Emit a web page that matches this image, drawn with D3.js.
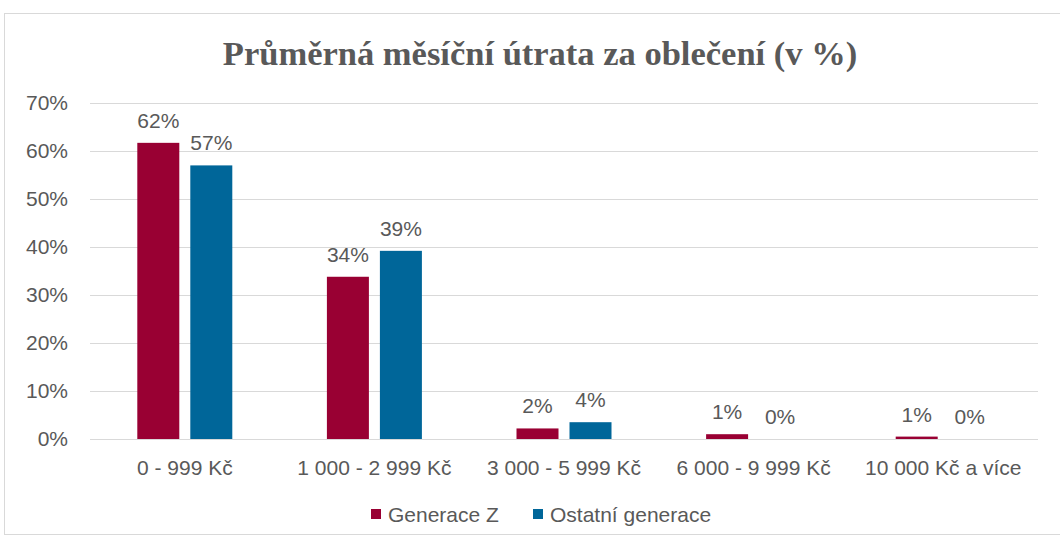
<!DOCTYPE html>
<html>
<head>
<meta charset="utf-8">
<script src="https://cdn.jsdelivr.net/npm/d3@7"></script>
<style>
  body { margin: 0; background: #fff; }
  text { font-family: "Liberation Sans", Arial, sans-serif; fill: #595959; }
</style>
</head>
<body>
<svg width="1060" height="540"></svg>
<script>
const categories = ["0 - 999 Kč", "1 000 - 2 999 Kč", "3 000 - 5 999 Kč", "6 000 - 9 999 Kč", "10 000 Kč a více"];
const seriesNames = ["Generace Z", "Ostatní generace"];
const genZ = [61.7, 33.8, 2.2, 1.0, 0.5];
const others = [57.0, 39.2, 3.5, 0, 0];
const genZLabels = ["62%", "34%", "2%", "1%", "1%"];
const othersLabels = ["57%", "39%", "4%", "0%", "0%"];
const yTicks = [0, 10, 20, 30, 40, 50, 60, 70];
const colors = ["#990033", "#006699"];

const svg = d3.select("svg");

// chart frame
svg.append("rect")
  .attr("x", 4.5).attr("y", 13.5)
  .attr("width", 1070).attr("height", 521)
  .attr("fill", "none").attr("stroke", "#d9d9d9");

svg.append("text")
  .attr("x", 540).attr("y", 65)
  .attr("text-anchor", "middle")
  .style("font-family", "'Liberation Serif', 'Times New Roman', serif")
  .style("font-weight", "bold")
  .style("font-size", "34.5px")
  .text("Průměrná měsíční útrata za oblečení (v %)");

const margin = { left: 90, right: 1038, top: 103, bottom: 439 };

const x = d3.scaleBand().domain(categories).range([margin.left, margin.right]);
const y = d3.scaleLinear().domain([0, 70]).range([margin.bottom, margin.top]);

// gridlines
svg.append("g")
  .selectAll("line")
  .data(yTicks)
  .enter()
  .append("line")
  .attr("x1", margin.left).attr("x2", margin.right)
  .attr("y1", (d) => y(d) + 0.5).attr("y2", (d) => y(d) + 0.5)
  .attr("stroke", "#d9d9d9").attr("stroke-width", 1);

const yAxis = svg.append("g")
  .attr("transform", `translate(${margin.left - 19},0)`)
  .call(d3.axisLeft(y).tickValues(yTicks).tickFormat((d) => d + "%").tickSize(0));
yAxis.select(".domain").remove();
yAxis.selectAll("text").style("font-size", "21px").attr("fill", "#595959");

const xAxis = svg.append("g")
  .attr("transform", `translate(0,${margin.bottom + 36})`)
  .call(d3.axisBottom(x).tickSize(0));
xAxis.select(".domain").remove();
xAxis.selectAll("text").style("font-size", "21px").attr("fill", "#595959").attr("y", 0).attr("dy", 0);

const barW = 42, gap = 11;
const series = [
  { values: genZ, labels: genZLabels, offset: -(gap / 2 + barW) },
  { values: others, labels: othersLabels, offset: gap / 2 },
];

series.forEach((s, i) => {
  const g = svg.append("g");
  g.selectAll("rect")
    .data(categories)
    .enter()
    .append("rect")
    .attr("x", (d) => x(d) + x.bandwidth() / 2 + s.offset)
    .attr("y", (d, j) => y(s.values[j]))
    .attr("width", barW)
    .attr("height", (d, j) => y(0) - y(s.values[j]))
    .attr("fill", colors[i]);
  g.selectAll("text")
    .data(categories)
    .enter()
    .append("text")
    .attr("x", (d) => x(d) + x.bandwidth() / 2 + s.offset + barW / 2)
    .attr("y", (d, j) => y(s.values[j]) - 15)
    .attr("text-anchor", "middle")
    .style("font-size", "21px")
    .text((d, j) => s.labels[j]);
});

// legend
const legend = svg.append("g").attr("transform", "translate(371,522)");
const legendX = [0, 162];
seriesNames.forEach((name, i) => {
  legend.append("rect")
    .attr("x", legendX[i]).attr("y", -13)
    .attr("width", 10).attr("height", 10)
    .attr("fill", colors[i]);
  legend.append("text")
    .attr("x", legendX[i] + 17).attr("y", 0)
    .style("font-size", "21px")
    .text(name);
});
</script>
</body>
</html>
